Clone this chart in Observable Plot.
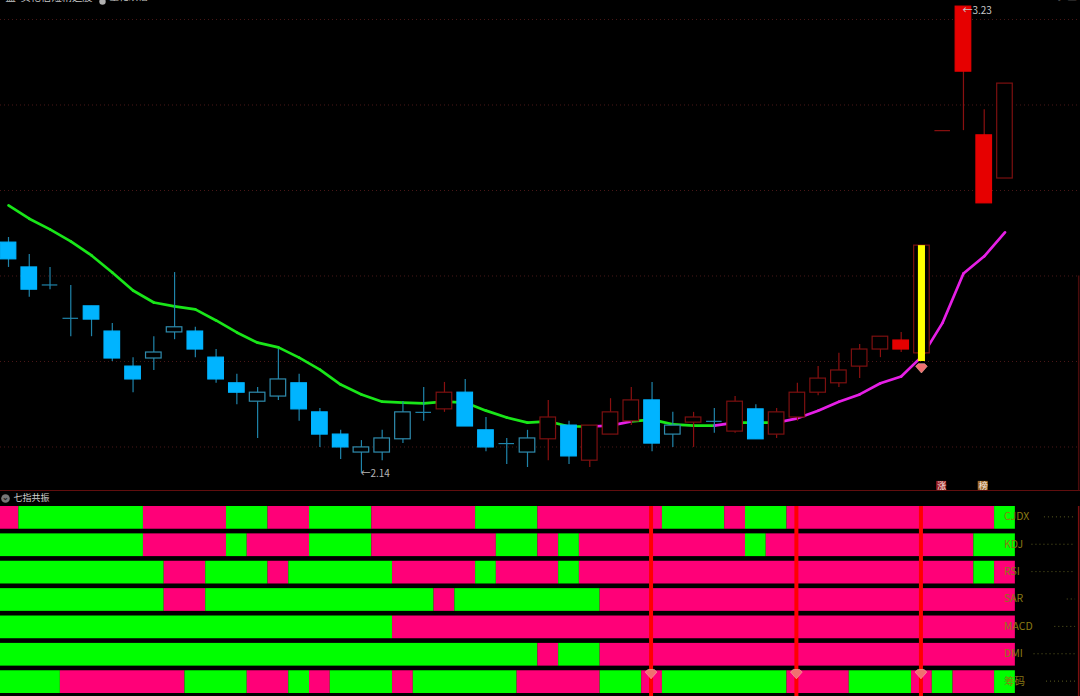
<!DOCTYPE html>
<html><head><meta charset="utf-8">
<script src="https://cdn.jsdelivr.net/npm/d3@7"></script>
<script src="https://cdn.jsdelivr.net/npm/@observablehq/plot@0.6"></script>
<style>html,body{margin:0;padding:0;background:#000;overflow:hidden}svg{display:block}#c{width:1080px;height:696px}</style>
</head><body><div id="c"></div>
<script>
// Candles, prices by bar index
const bodyTop = [2.678,2.620,2.579,2.501,2.529,2.470,2.388,2.421,2.480,2.470,2.409,2.349,2.327,2.358,2.349,2.281,2.229,2.199,2.220,2.281,2.281,2.327,2.327,2.239,2.208,2.220,2.269,2.250,2.250,2.281,2.309,2.309,2.250,2.269,2.260,2.306,2.288,2.281,2.327,2.360,2.379,2.428,2.458,2.449,2.671,2.940,3.230,2.929,3.050];
const bodyBottom = [2.639,2.568,2.579,2.501,2.498,2.407,2.358,2.407,2.468,2.428,2.358,2.327,2.306,2.318,2.288,2.229,2.199,2.187,2.187,2.218,2.281,2.288,2.248,2.199,2.208,2.187,2.218,2.178,2.168,2.229,2.260,2.208,2.229,2.257,2.260,2.236,2.218,2.229,2.269,2.327,2.349,2.388,2.428,2.428,2.419,2.940,3.078,2.770,2.828];
const highs = [2.690,2.650,2.620,2.578,2.529,2.489,2.409,2.458,2.608,2.480,2.428,2.370,2.339,2.428,2.370,2.290,2.239,2.215,2.239,2.306,2.339,2.351,2.358,2.269,2.220,2.239,2.309,2.260,2.250,2.313,2.339,2.351,2.281,2.281,2.290,2.318,2.299,2.290,2.349,2.388,2.419,2.440,2.458,2.468,2.671,2.940,3.230,2.989,3.050];
const lows = [2.620,2.550,2.568,2.458,2.458,2.400,2.327,2.379,2.451,2.409,2.349,2.299,2.220,2.309,2.260,2.199,2.171,2.140,2.168,2.208,2.260,2.281,2.248,2.189,2.159,2.152,2.168,2.159,2.152,2.229,2.250,2.189,2.199,2.199,2.232,2.232,2.218,2.220,2.260,2.320,2.339,2.360,2.409,2.421,2.419,2.940,2.940,2.770,2.828];
const solidBars = [0,1,2,3,4,5,6,9,10,11,14,15,16,22,23,27,31,36,43,46,47];
const redBars = [21,26,28,29,30,33,35,37,38,39,40,41,42,43,44,45,46,47,48];
// Moving average
const maValues = [2.765,2.734,2.709,2.681,2.648,2.608,2.566,2.538,2.529,2.522,2.496,2.468,2.444,2.433,2.409,2.381,2.346,2.323,2.306,2.304,2.302,2.306,2.304,2.285,2.269,2.257,2.260,2.248,2.248,2.250,2.260,2.264,2.253,2.250,2.250,2.257,2.257,2.257,2.267,2.285,2.306,2.323,2.349,2.365,2.412,2.491,2.606,2.646,2.702];
const maMagentaIntervals = [28,29,34,37,38,39,40,41,42,43,44,45,46,47];
const gridPrices = [3.2,3.0,2.8,2.6,2.4,2.2];
// Resonance rows: bar indices at which the state flips
const indicators = ["CJDX","KDJ","RSI","SAR","MACD","DMI","筹码"];
const cjdxFlips = [0,1,7,11,13,15,18,23,26,32,35,36,38,48,49];
const kdjFlips = [0,7,11,12,15,18,24,26,27,28,36,37,47,49];
const rsiFlips = [0,8,10,13,14,19,23,24,27,28,47,48,49];
const sarFlips = [0,8,10,21,22,29,49];
const macdFlips = [0,19,49];
const dmiFlips = [0,26,27,29,49];
const chipFlips = [0,3,9,12,14,15,16,19,20,25,29,31,32,38,41,44,45,46,48,49];
const startsPink = ["CJDX"];
const signalBars = [31,38,44];
const labelLineStarts = [49.9,49.3,49.3,51,50.4,49.4,50];

const xScale = {domain:[-8/20.76,(1080-8)/20.76],range:[0,1080]};
const allFlips = [cjdxFlips,kdjFlips,rsiFlips,sarFlips,macdFlips,dmiFlips,chipFlips];
const GREEN="#00ff00",PINK="#ff0078",BLUE="#00b4ff",MAG="#e61fe6",MAGREEN="#19e619";
const candles = bodyTop.map((t,i)=>({i,t,b:bodyBottom[i],h:highs[i],l:lows[i],
  solid:solidBars.includes(i),red:redBars.includes(i)}));
const wickC=d=>d.red?"#8a1010":"#1f84aa";
const fillC=d=>d.solid?(d.red?"#e60000":BLUE):"#000";
const strokeC=d=>d.solid?(d.red?"#e60000":BLUE):(d.red?"#7c1010":"#2f8cae");
const maSegs = maValues.slice(1).map((v,k)=>({x1:k,x2:k+1,y1:maValues[k],y2:v,m:maMagentaIntervals.includes(k)}));
const gem = {draw(c,s){const r=Math.sqrt(s);c.moveTo(-r,-r*.35);c.lineTo(-r*.55,-r*.8);c.lineTo(r*.55,-r*.8);c.lineTo(r,-r*.35);c.lineTo(0,r*.8);c.closePath();}};
const font='"Noto Sans CJK SC","Noto Sans",sans-serif';
const headerText = (s,dx,fill,fontSize=10.3)=>Plot.text([s],{frameAnchor:"top-left",dx,dy:-7,lineAnchor:"top",text:d=>d,textAnchor:"start",fill,fontSize});

const pricePanel = Plot.plot({
  width:1080,height:491,margin:0,
  style:{background:"#000",fontFamily:font},
  x:{...xScale,axis:null},
  y:{domain:[2.0959,3.2444],range:[491,0],axis:null},
  color:{type:"identity"},
  marks:[
    Plot.ruleY(gridPrices,{stroke:"#4a1818",strokeWidth:1,strokeDasharray:"1 3"}),
    Plot.ruleY([2.098],{stroke:"#6a1010",strokeWidth:1}),
    Plot.ruleX([51.55],{y1:2.6,y2:2.098,stroke:"#4a0c0c",strokeWidth:1.5}),
    Plot.link(maSegs.filter(d=>!d.m),{x1:"x1",x2:"x2",y1:"y1",y2:"y2",stroke:MAGREEN,strokeWidth:2.7,strokeLinecap:"round"}),
    Plot.link(maSegs.filter(d=>d.m),{x1:"x1",x2:"x2",y1:"y1",y2:"y2",stroke:MAG,strokeWidth:2.7,strokeLinecap:"round"}),
    Plot.ruleX(candles,{x:"i",y1:"l",y2:"h",stroke:wickC,strokeWidth:1.2}),
    Plot.rect(candles.filter(d=>d.t>d.b),{x1:d=>d.i-.375,x2:d=>d.i+.375,y1:"b",y2:"t",fill:fillC,stroke:strokeC,strokeWidth:1.2,inset:0}),
    Plot.ruleY(candles.filter(d=>d.t<=d.b),{x1:d=>d.i-.375,x2:d=>d.i+.375,y:"t",stroke:wickC,strokeWidth:1.2}),
    Plot.rect([signalBars[2]],{x1:d=>d-.17,x2:d=>d+.17,y1:2.4,y2:2.671,fill:"#ffff00"}),
    Plot.dot([signalBars[2]],{x:d=>d,y:2.384,dx:-.5,symbol:gem,r:3.3,fill:"#f07070",stroke:"#ffc0b0",strokeWidth:.5}),
    Plot.text([{i:17,p:2.14,s:"←2.14"}],{x:"i",y:"p",text:"s",textAnchor:"start",dx:-1,dy:1,fill:"#b5b5b5",fontSize:10}),
    Plot.text([{i:46,p:3.23,s:"←3.23"}],{x:"i",y:"p",text:"s",textAnchor:"start",dx:-1,dy:4,fill:"#c8c8c8",fontSize:10}),
    Plot.rect([45,47],{x1:d=>d-.24,x2:d=>d+.24,y1:2.0985,y2:2.1195,fill:d=>d===45?"#9a1c20":"#a06c2a",dx:-1}),
    Plot.text([{i:45,s:"涨"},{i:47,s:"榜"}],{x:"i",y:2.109,text:"s",fill:"#f5e8e0",fontSize:9,dx:-1}),
    headerText("盘",5,"#c4c4c4"),
    headerText("买枪信短精选股",20,"#c4c4c4"),
    Plot.dot([0],{frameAnchor:"top-left",dx:102,dy:1,r:3.2,fill:"#b0b0b0"}),
    headerText("量化跌幅",109,"#c4c4c4",9.5),
    headerText("2.19",150,"#1fc81f",9.5),
    headerText("2.17",176,"#1fc81f",9.5),
    headerText("2.17",198,"#d020c8",9.5),
    headerText("◇",1054,"#8a8a8a",9.5),
    headerText("▭",1066,"#8a8a8a",11)
  ]
});

const rows = [];
allFlips.forEach((f,r)=>{
  let pink = startsPink.includes(indicators[r]);
  for(let k=0;k<f.length-1;k++){rows.push({name:indicators[r],a:f[k]-.5,b:f[k+1]-.5,c:pink?PINK:GREEN});pink=!pink;}
});
const resonancePanel = Plot.plot({
  width:1080,height:205,marginLeft:0,marginRight:0,marginBottom:0,marginTop:15,
  style:{background:"#000",fontFamily:font},
  x:{...xScale,axis:null},
  y:{type:"band",domain:indicators,range:[15,202],paddingInner:.17,paddingOuter:0,round:false,axis:null},
  color:{type:"identity"},
  marks:[
    Plot.ruleX([51.55],{stroke:"#7a1010",strokeWidth:1.5}),
    Plot.barX(rows,{x1:"a",x2:"b",y:"name",fill:"c",inset:0}),
    Plot.ruleY(indicators,{y:d=>d,dy:-1,x1:(d,k)=>labelLineStarts[k],x2:51.4,stroke:"#5c5c20",strokeWidth:1,strokeDasharray:"1 3"}),
    Plot.text(indicators,{x:48,y:d=>d,dy:-1,text:d=>d,textAnchor:"start",dx:-1,fill:"#8a7a14",fontSize:10.5}),
    Plot.ruleX(signalBars,{x:d=>d,stroke:"#ff0000",strokeWidth:4,dx:-1}),
    Plot.dot(signalBars,{x:d=>d,y:()=>indicators[6],dy:-8,dx:-1,symbol:gem,r:3.3,fill:"#f07070",stroke:"#ffc0b0",strokeWidth:.5})
  ]
});

const panelTitle = Plot.plot({
  width:1080,height:14,margin:0,
  style:{background:"transparent",fontFamily:font,position:"absolute",left:"0",top:"491px"},
  x:{...xScale,axis:null},y:{domain:[0,1],axis:null},
  marks:[
    Plot.dot([0],{x:d=>d,y:.5,dx:-3,r:4.3,fill:"#777"}),
    Plot.text(["⌄"],{x:0,y:.5,dx:-3,dy:-1,text:d=>d,fill:"#222",fontSize:8,fontWeight:"bold"}),
    Plot.text(["七指共振"],{x:0,y:.5,dx:5,text:d=>d,textAnchor:"start",fill:"#d2d2d2",fontSize:9})
  ]
});
const c=document.getElementById("c");
c.style.position="relative";
c.append(pricePanel,resonancePanel,panelTitle);
</script></body></html>
